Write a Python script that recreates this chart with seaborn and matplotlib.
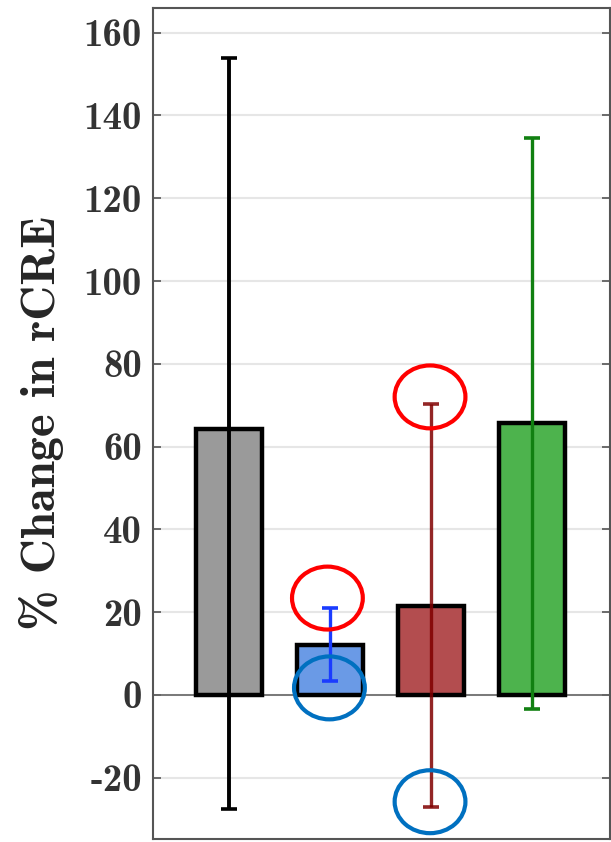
import matplotlib
matplotlib.use("Agg")
import matplotlib.pyplot as plt
import seaborn as sns
import pandas as pd
from matplotlib.patches import Ellipse

groups = ["A", "B", "C", "D"]
values = [64.3, 12.1, 21.5, 65.7]
err_low = [-27.5, 3.4, -27.1, -3.4]
err_high = [153.9, 21.0, 70.3, 134.5]
bar_colors = ["#9a9a9a", "#6a9ae6", "#b34d4f", "#4db34d"]
err_colors = ["#000000", "#1a3cff", "#800000", "#118011"]
yticks = [-20, 0, 20, 40, 60, 80, 100, 120, 140, 160]

df = pd.DataFrame({"group": groups, "value": values})

sns.set_theme(style="white")
plt.rcParams["font.family"] = ["cmb10", "DejaVu Serif"]
plt.rcParams["axes.unicode_minus"] = False

fig = plt.figure(figsize=(6.11, 8.42), dpi=100)
ax = fig.add_axes([0.2504, 0.0036, 0.7480, 0.9871])

sns.barplot(data=df, x="group", y="value", hue="group", palette=bar_colors,
            saturation=1, legend=False, width=0.65, edgecolor="black",
            linewidth=3.2, ax=ax, zorder=2)

for i, (v, lo, hi, c) in enumerate(zip(values, err_low, err_high, err_colors)):
    ax.errorbar(i, v, yerr=[[v - lo], [hi - v]], fmt="none", ecolor=c,
                elinewidth=2.8 if i == 0 else 2.4, capsize=5.5, capthick=2.6,
                alpha=0.85 if i == 2 else 1.0, zorder=3)

# annotation ellipses (in data units)
ell = [(0.975, 23.4, "#ff0000"), (0.995, 1.7, "#0070c0"),
       (1.99, 72.0, "#ff0000"), (1.99, -25.8, "#0070c0")]
for x, y, c in ell:
    ax.add_patch(Ellipse((x, y), 0.70, 15.2, fill=False, edgecolor=c,
                         linewidth=3, zorder=5, clip_on=False))

ax.set_xlim(-0.75, 3.77)
ax.set_ylim(-34.8, 166)
ax.set_yticks(yticks)
ax.set_yticklabels([str(t) for t in yticks], fontsize=28)
ax.set_xticks([])
ax.set_xlabel("")
ax.set_ylabel("% Change in rCRE", fontsize=35, labelpad=14)
ax.yaxis.grid(True, color="#e6e6e6", linewidth=1.5, zorder=0)
ax.set_axisbelow(True)
ax.axhline(0, color="#666666", linewidth=1.2, zorder=1)
ax.tick_params(axis="y", which="both", direction="in", length=6, width=1.2,
               color="#555555", left=True, right=True, pad=8, labelcolor="#333333")
for s in ax.spines.values():
    s.set_color("#555555")
    s.set_linewidth(1.5)

fig.savefig("out.png", dpi=100)
